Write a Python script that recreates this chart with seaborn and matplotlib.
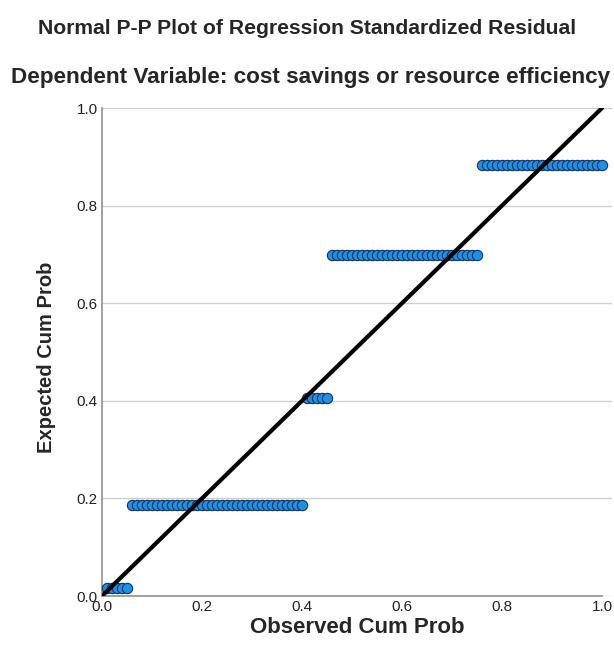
import numpy as np
import pandas as pd
import seaborn as sns
import matplotlib.pyplot as plt

# Residual groups: expected cum prob level and number of cases at that level
expected_levels = [0.016, 0.186, 0.405, 0.699, 0.883]
case_counts = [5, 35, 5, 30, 25]
ticks = [0.0, 0.2, 0.4, 0.6, 0.8, 1.0]
tick_labels = ["0.0", "0.2", "0.4", "0.6", "0.8", "1.0"]

# P-P construction: observed cum prob = rank / N
n_total = sum(case_counts)
rank = np.arange(1, n_total + 1)
pp = pd.DataFrame({
    "observed": rank / n_total,
    "expected": np.repeat(expected_levels, case_counts),
})

sns.set_style("white")
plt.rcParams["font.family"] = ["Liberation Sans", "DejaVu Sans"]

fig = plt.figure(figsize=(6.14, 6.61), dpi=100)
ax = fig.add_axes([102 / 614, 1 - 596 / 661, 510 / 614, 488 / 661])

sns.scatterplot(
    data=pp, x="observed", y="expected", ax=ax,
    s=55, color="#1e90e6", edgecolor="#15305a", linewidth=0.8,
    zorder=3, clip_on=False
)
sns.lineplot(x=[0, 1], y=[0, 1], ax=ax, color="black", linewidth=3, zorder=4)

ax.set_xlim(0, 1.02)
ax.set_ylim(0, 1.0)
ax.set_xticks(ticks)
ax.set_xticklabels(tick_labels)
ax.set_yticks(ticks)
ax.set_yticklabels(tick_labels)
ax.tick_params(length=0, labelsize=11, colors="#222222", pad=3)
ax.yaxis.grid(True, color="#cfcfcf", linewidth=1)
ax.set_axisbelow(True)
for side in ["top", "right"]:
    ax.spines[side].set_visible(False)
for side in ["left", "bottom"]:
    ax.spines[side].set_color("#909090")
    ax.spines[side].set_linewidth(1.2)
ax.spines["bottom"].set_bounds(0, 1.0)

ax.set_xlabel("Observed Cum Prob", fontsize=16, fontweight="bold", labelpad=2)
ax.set_ylabel("Expected Cum Prob", fontsize=14.5, fontweight="bold")
ax.yaxis.set_label_coords(-0.09, 0.49)

fig.text(0.5, 1 - 28 / 661, "Normal P-P Plot of Regression Standardized Residual",
         ha="center", va="center", fontsize=15.2, fontweight="bold")
fig.text(0.505, 1 - 77 / 661, "Dependent Variable: cost savings or resource efficiency",
         ha="center", va="center", fontsize=16.2, fontweight="bold")

plt.savefig("out.png", dpi=100)
